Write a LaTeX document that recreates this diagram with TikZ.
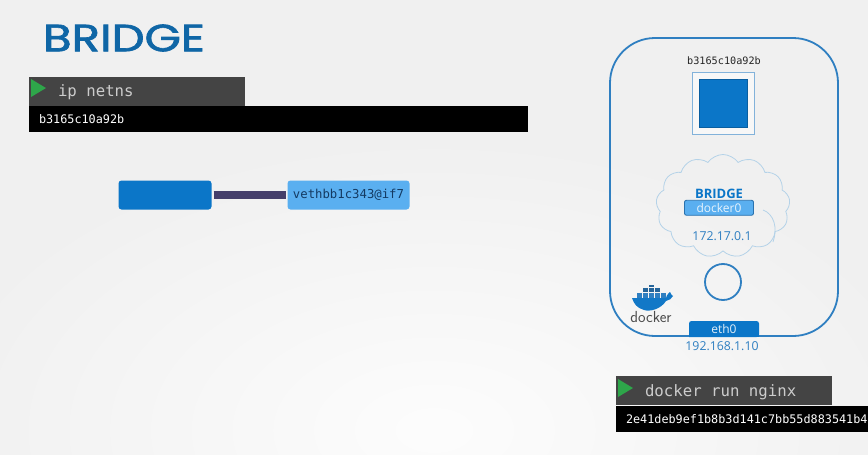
\documentclass[tikz,border=0pt]{standalone}
\usepackage{fontspec}
\setmainfont{Open Sans}
\newfontfamily\titlefont[FakeBold=1.7]{Poppins}
\setmonofont{DejaVu Sans Mono}
\usetikzlibrary{positioning,shapes.symbols,calc}
\definecolor{boxblue}{HTML}{0B76C8}
\definecolor{lightblue}{HTML}{5AAFF0}
\definecolor{hostblue}{HTML}{2F7FC1}
\definecolor{linkpurple}{HTML}{453F6B}
\definecolor{cloudblue}{HTML}{B4D2E8}
\definecolor{textblue}{HTML}{2F7FC1}
\definecolor{titleblue}{HTML}{0F66A6}
\definecolor{bargrey}{HTML}{444444}
\definecolor{playgreen}{HTML}{2EA64A}
\begin{document}
\begin{tikzpicture}[x=1pt, y=-1pt, inner sep=0pt, outer sep=0pt,
    main/.style = {draw=none, fill=boxblue, rounded corners=3pt, minimum height=29pt},
    cmdbar/.style = {fill=bargrey, anchor=north west, minimum height=29pt},
    resultbar/.style = {fill=black, anchor=north west, minimum height=26pt},
    cmdtext/.style = {anchor=west, text=black!20, font=\fontsize{15.7}{18}\ttfamily},
    restext/.style = {anchor=west, text=white, font=\fontsize{11.8}{14}\ttfamily},
    bluelabel/.style = {text=textblue, font=\fontsize{12.3}{15}\selectfont}]
    \useasboundingbox (0,0) rectangle (868,455);
    \fill[black!6] (0,0) rectangle (868,455);
    \shade[inner color=black!1, outer color=black!6] (434,430) ellipse[x radius=520, y radius=300];

    \node[anchor=west, text=titleblue, xscale=1.23, transform shape, font=\fontsize{38}{42}\titlefont] (title) at (43,38) {BRIDGE};

    % ip netns
    \node[resultbar, minimum width=499pt] (netnsres) at (29,106) {};
    \node[cmdbar, minimum width=216pt] (netnscmd) at (29,77) {};
    \node[restext] (netnsrestext) at (39,119) {b3165c10a92b};
    \node[cmdtext] (netnstext) at (58,92.5) {ip netns};
    \fill[playgreen] (31,79) -- (46,88) -- (31,97) -- cycle;

    % veth pair
    \node[main, minimum width=93pt] (netbox) at (165,195) {};
    \node[main, fill=lightblue, minimum width=122pt, text=linkpurple!40!boxblue!60!black, font=\fontsize{12.3}{15}\ttfamily, right=76pt of netbox] (veth) {\raisebox{-1.5pt}{vethbb1c343@if7}};
    \draw[linkpurple, line width=8pt, shorten >=2pt, shorten <=2pt] (netbox.east) -- (veth.west);

    % docker host
    \node[draw=hostblue, line width=1.8pt, rounded corners=45pt, minimum width=228pt, minimum height=298pt] (host) at (724,187) {};
    \node[font=\fontsize{10.2}{12}\ttfamily, text=black!85] (contname) at (724,61) {b3165c10a92b};
    \node[draw=hostblue!60, line width=1pt, fill=black!3, minimum size=62pt] (contouter) at (723,103) {};
    \node[draw=boxblue!80!black, fill=boxblue, minimum size=48pt] (continner) at (723,103) {};

    % bridge
    \node[cloud, draw=cloudblue, line width=0.8pt, cloud puffs=13, cloud puff arc=110, aspect=1.35, minimum width=134pt, minimum height=103pt] (bridgecloud) at (723,206) {};
    \draw[cloudblue, line width=0.8pt] (763,210) .. controls (774,214) and (778,228) .. (773,242);
    \node[text=boxblue, font=\fontsize{13}{15}\bfseries] (bridgetext) at (719,194) {BRIDGE};
    \node[draw=hostblue!90!black, line width=0.9pt, fill=lightblue, rounded corners=2pt, minimum width=69pt, minimum height=15pt, text=white!85!lightblue, font=\fontsize{12}{14}\selectfont, below=1.5pt of bridgetext] (docker0) {docker0};
    \node[bluelabel] (bridgeip) at (722,236) {172.17.0.1};

    % eth0
    \node[draw=hostblue, fill=none, circle, line width=1.8pt, minimum size=36pt] (hostport) at (723,282) {};
    \fill[boxblue, rounded corners=2.5pt] (689,337) -- (689,321) -- (759,321) -- (759,337) [sharp corners] -- cycle;
    \fill[boxblue] (689,332) rectangle (759,337);
    \node[text=white!88!boxblue, font=\fontsize{12}{14}\selectfont] (eth0) at (724,329) {eth0};
    \node[bluelabel] (ethip) at (722,346) {192.168.1.10};

    % docker logo
    \fill[boxblue!80!hostblue] (632,298) -- (666,298) .. controls (667,294) and (669,293) .. (670,292) .. controls (671,294) and (672,296) .. (673,296) .. controls (672,299) and (669,300) .. (666,301) .. controls (661,309) and (650,312) .. (644,310) .. controls (637,308) and (634,304) .. (632,298) -- cycle;
    \foreach \i in {637,643,649,655,661} \fill[hostblue] (\i,292.5) rectangle +(5,5);
    \foreach \i in {643,649,655} \fill[hostblue!80!black] (\i,287.5) rectangle +(5,4.5);
    \fill[hostblue!80!black] (649,284.5) rectangle +(5,2.5);
    \node[text=black!70, font=\fontsize{16}{18}\sffamily] (dockertext) at (651,317) {docker};

    % docker run
    \node[resultbar, minimum width=252pt] (runres) at (616,406) {};
    \node[cmdbar, minimum width=216pt] (runcmd) at (616,376) {};
    \node[restext] (runrestext) at (626,419) {2e41deb9ef1b8b3d141c7bb55d883541b4};
    \node[cmdtext] (runtext) at (645,392) {docker run nginx};
    \fill[playgreen] (618,379) -- (633,388) -- (618,397) -- cycle;
\end{tikzpicture}
\end{document}
